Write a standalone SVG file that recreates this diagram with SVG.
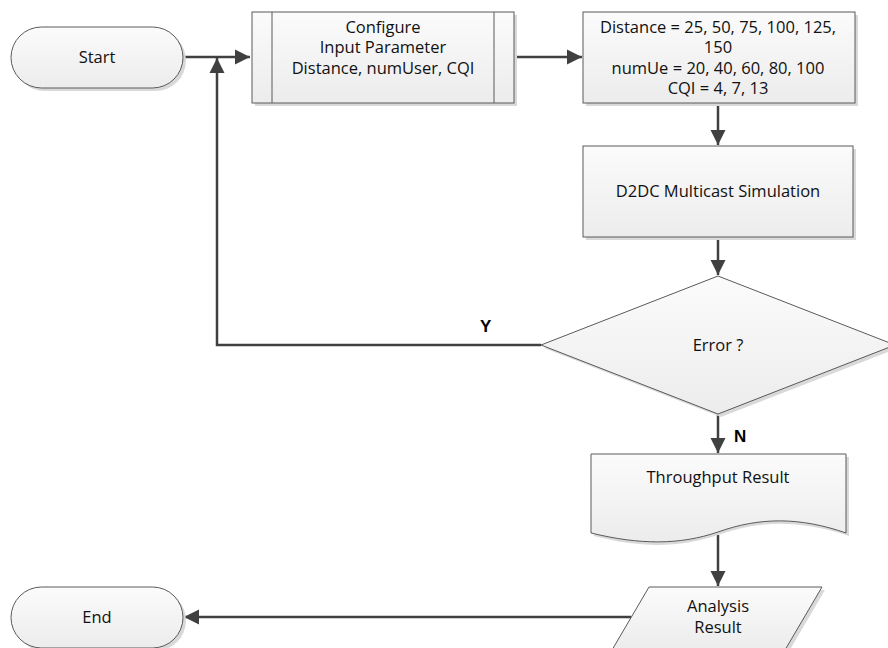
<svg xmlns="http://www.w3.org/2000/svg" width="888" height="648" viewBox="0 0 888 648">
<defs>
<linearGradient id="g" x1="0" y1="0" x2="0" y2="1">
<stop offset="0" stop-color="#fbfbfb"/>
<stop offset="1" stop-color="#ececec"/>
</linearGradient>
<marker id="ah" viewBox="0 0 10 10" refX="10" refY="5" markerWidth="6" markerHeight="6.4" orient="auto" markerUnits="strokeWidth">
<path d="M0,0 L10,5 L0,10 z" fill="#404040"/>
</marker>
</defs>
<style>
.s{fill:#d9d9d9;stroke:none}
.n{fill:url(#g);stroke:#5a5a5a;stroke-width:1}
.t{font-family:"Open Sans","Liberation Sans",sans-serif;font-size:16.5px;fill:#111;text-anchor:middle}
.c{fill:none;stroke:#404040;stroke-width:2.5}
.l{font-family:"Liberation Sans",Arial,sans-serif;font-size:17px;font-weight:bold;fill:#000}
</style>
<g id="connectors">
<path class="c" d="M183,57 H250" marker-end="url(#ah)"/>
<path class="c" d="M541,345 H217 V58" marker-end="url(#ah)"/>
<path class="c" d="M514,57 H582" marker-end="url(#ah)"/>
<path class="c" d="M718,103 V145" marker-end="url(#ah)"/>
<path class="c" d="M718,237 V275" marker-end="url(#ah)"/>
<path class="c" d="M718,414 V453" marker-end="url(#ah)"/>
<path class="c" d="M718,535 V586" marker-end="url(#ah)"/>
<path class="c" d="M631,617 H184" marker-end="url(#ah)"/>
<text class="l" x="480" y="332">Y</text>
<text class="l" x="734" y="442">N</text>
</g>
<g id="start">
<rect class="s" x="14" y="30" width="172" height="61" rx="30.5"/>
<rect class="n" x="11" y="27" width="172" height="61" rx="30.5"/>
<text class="t" x="97" y="63">Start</text>
</g>
<g id="configure">
<rect class="s" x="255" y="15" width="262" height="91"/>
<rect class="n" x="252" y="12" width="262" height="91"/>
<line x1="272" y1="12" x2="272" y2="103" stroke="#5a5a5a"/>
<line x1="494" y1="12" x2="494" y2="103" stroke="#5a5a5a"/>
<text class="t" x="383" y="33">Configure</text>
<text class="t" x="383" y="53">Input Parameter</text>
<text class="t" x="383" y="74">Distance, numUser, CQI</text>
</g>
<g id="params">
<rect class="s" x="586" y="15" width="272" height="91"/>
<rect class="n" x="583" y="12" width="272" height="91"/>
<text class="t" x="718" y="33">Distance = 25, 50, 75, 100, 125,</text>
<text class="t" x="718" y="53">150</text>
<text class="t" x="718" y="74">numUe = 20, 40, 60, 80, 100</text>
<text class="t" x="718" y="94">CQI = 4, 7, 13</text>
</g>
<g id="simulation">
<rect class="s" x="586" y="149" width="270" height="91"/>
<rect class="n" x="583" y="146" width="270" height="91"/>
<text class="t" x="718" y="197">D2DC Multicast Simulation</text>
</g>
<g id="error">
<polygon class="s" points="721,279 898,348 721,417 544,348"/>
<polygon class="n" points="718,276 895,345 718,414 541,345"/>
<text class="t" x="718" y="351">Error ?</text>
</g>
<g id="throughput">
<path class="s" d="M594,457 H849 V536 C800,520 760,520 718,535 C680,548 640,548 594,536 Z"/>
<path class="n" d="M591,454 H846 V533 C800,517 760,517 718,532 C680,545 640,545 591,533 Z"/>
<text class="t" x="718" y="483">Throughput Result</text>
</g>
<g id="analysis">
<polygon class="s" points="652,590 825,590 788,653 615,653"/>
<polygon class="n" points="649,587 822,587 785,650 612,650"/>
<text class="t" x="718" y="612">Analysis</text>
<text class="t" x="718" y="633">Result</text>
</g>
<g id="end">
<rect class="s" x="14" y="590" width="172" height="61" rx="30.5"/>
<rect class="n" x="11" y="587" width="172" height="61" rx="30.5"/>
<text class="t" x="97" y="623">End</text>
</g>
</svg>
